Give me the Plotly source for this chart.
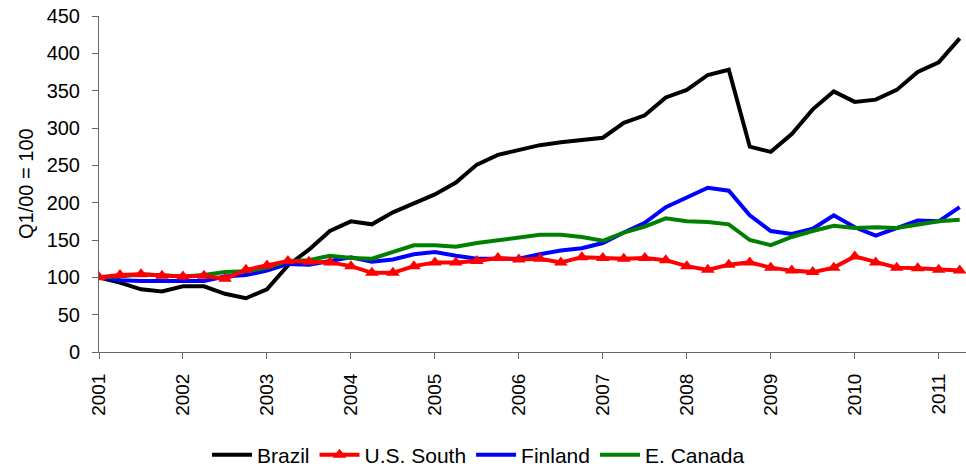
import plotly.graph_objects as go

# Quarterly periods, Q1 2001 .. Q2 2011
periods = [(y, q) for y in range(2001, 2012) for q in range(1, 5)][:42]
x_vals = [y + (q - 1) / 4 for y, q in periods]

brazil = [100, 93, 84, 81, 88, 88, 78, 72, 84, 116, 137, 162, 175, 171, 187, 199,
          211, 227, 251, 264, 270, 277, 281, 284, 287, 307, 317, 341, 351, 371, 378,
          275, 268, 292, 325, 349, 335, 338, 351, 375, 388, 420]
us_south = [100, 103, 104, 102, 101, 102, 98, 110, 116, 122, 121, 120, 115, 106, 106, 115,
            120, 120, 122, 126, 124, 125, 120, 127, 126, 125, 126, 123, 115, 110, 117,
            120, 113, 109, 107, 113, 128, 120, 113, 112, 110, 109]
finland = [100, 96, 95, 95, 94, 95, 101, 103, 109, 118, 117, 122, 127, 121, 124, 131,
           134, 129, 125, 125, 125, 131, 136, 139, 146, 160, 173, 194, 207, 220, 216,
           183, 162, 158, 165, 183, 167, 156, 166, 176, 175, 194]
e_canada = [100, 101, 104, 102, 101, 103, 107, 108, 113, 122, 123, 129, 126, 125, 134, 143,
            143, 141, 146, 150, 153, 157, 157, 154, 149, 160, 168, 179, 175, 174, 171,
            150, 143, 154, 162, 169, 166, 167, 166, 171, 175, 177]

year_ticks = list(range(2001, 2012))
year_labels = [str(y) for y in year_ticks]
y_ticks = list(range(0, 451, 50))

FONT = "Liberation Sans, Arial, sans-serif"
AX = "#666666"
LW = 4

fig = go.Figure()
fig.add_trace(go.Scatter(x=x_vals, y=brazil, name="Brazil", mode="lines",
                         line=dict(color="#000000", width=LW), legendrank=1))
fig.add_trace(go.Scatter(x=x_vals, y=finland, name="Finland", mode="lines",
                         line=dict(color="#0000FF", width=LW), legendrank=3))
fig.add_trace(go.Scatter(x=x_vals, y=e_canada, name="E. Canada", mode="lines",
                         line=dict(color="#008000", width=LW), legendrank=4))
fig.add_trace(go.Scatter(x=x_vals, y=us_south, name="U.S. South", mode="lines+markers",
                         line=dict(color="#FF0000", width=LW),
                         marker=dict(symbol="triangle-up", size=12, color="#FF0000"),
                         legendrank=2))

fig.update_layout(
    width=966, height=467,
    margin=dict(l=99, r=0, t=16, b=115, pad=0, autoexpand=False),
    paper_bgcolor="white", plot_bgcolor="white",
    font=dict(family=FONT, size=20, color="#000000"),
    showlegend=True,
    legend=dict(orientation="h", x=207 / 966, xref="container", xanchor="left",
                y=(467 - 455) / 467, yref="container", yanchor="middle",
                font=dict(family=FONT, size=21), itemwidth=40,
                tracegroupgap=0, bgcolor="rgba(0,0,0,0)"),
)

fig.update_xaxes(
    range=[2001, 2011.325], tickmode="array", tickvals=year_ticks, ticktext=year_labels,
    tickangle=-90, ticks="outside", ticklen=6, tickcolor=AX, tickwidth=1,
    showline=True, linecolor=AX, linewidth=1, showgrid=False, zeroline=False,
    ticklabelstandoff=7, tickfont=dict(family=FONT, size=19), automargin=False,
)
fig.update_yaxes(
    range=[0, 450], tickmode="array", tickvals=y_ticks,
    ticks="outside", ticklen=6, tickcolor=AX, tickwidth=1,
    showline=True, linecolor=AX, linewidth=1, showgrid=False, zeroline=False,
    tickfont=dict(family=FONT, size=20), ticklabelstandoff=8, automargin=False,
)

fig.add_annotation(text="Q1/00 = 100", textangle=-90, xref="paper", yref="paper",
                   x=(26 - 99) / 867, y=0.5, xanchor="center", yanchor="middle",
                   showarrow=False, font=dict(family=FONT, size=20))

fig.write_html(
    "out.html",
    config={"displayModeBar": False},
    post_script="document.body.style.margin='0';document.body.style.overflow='hidden';",
)
